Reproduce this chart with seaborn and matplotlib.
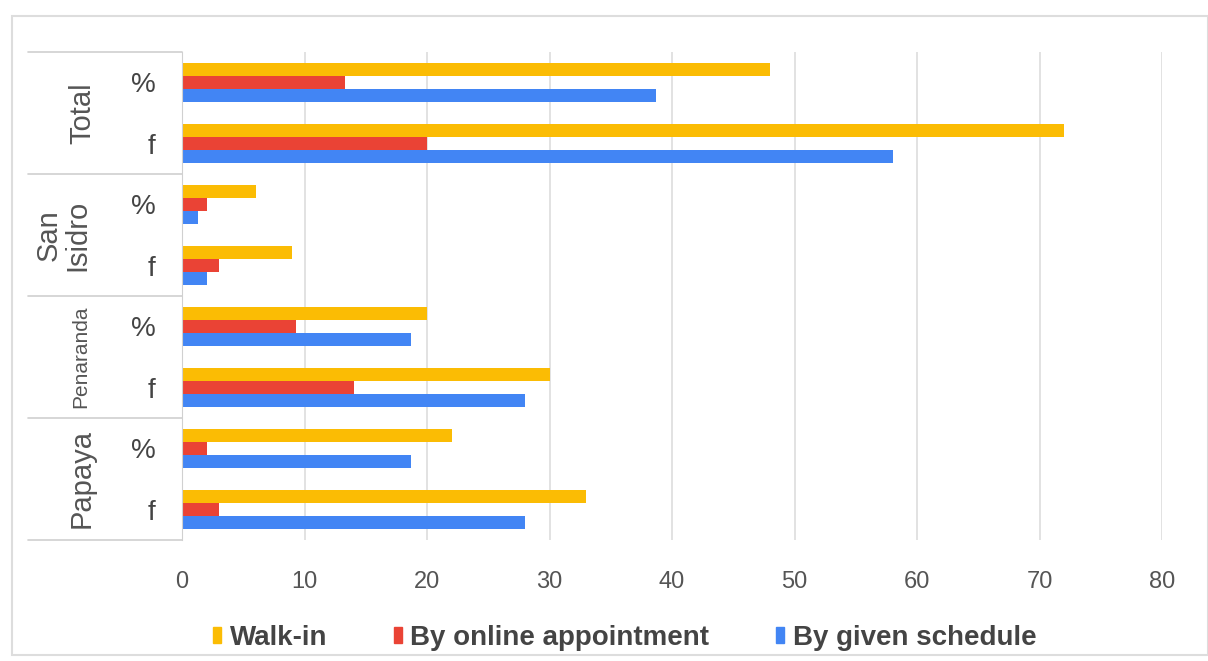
import matplotlib
matplotlib.use("Agg")
import matplotlib.pyplot as plt
import matplotlib.transforms as mtransforms
from matplotlib.lines import Line2D
from matplotlib.patches import Rectangle
import pandas as pd
import seaborn as sns

# Données
rows = ["Total %", "Total f", "San Isidro %", "San Isidro f",
        "Penaranda %", "Penaranda f", "Papaya %", "Papaya f"]
row_labels = ["%", "f", "%", "f", "%", "f", "%", "f"]
groups = ["Total", "San\nIsidro", "Penaranda", "Papaya"]
methods = ["Walk-in", "By online appointment", "By given schedule"]
walk_in = [48, 72, 6, 9, 20, 30, 22, 33]
online = [13.3, 20, 2, 3, 9.3, 14, 2, 3]
schedule = [38.7, 58, 1.3, 2, 18.7, 28, 18.7, 28]
x_ticks = [0, 10, 20, 30, 40, 50, 60, 70, 80]

colors = ["#FBBC04", "#EA4335", "#4285F4"]

df = pd.DataFrame({
    "row": rows * 3,
    "method": [methods[0]] * 8 + [methods[1]] * 8 + [methods[2]] * 8,
    "value": walk_in + online + schedule,
})

sns.set_style("white")
plt.rcParams["font.family"] = ["Liberation Sans", "DejaVu Sans"]

fig = plt.figure(figsize=(12.08, 6.61), dpi=100)
ax = fig.add_axes([182 / 1208, 1 - 540 / 661, (1162 - 182) / 1208, 488 / 661])

sns.barplot(data=df, x="value", y="row", hue="method", order=rows,
            hue_order=methods, palette=colors, width=0.63, orient="h",
            saturation=1, linewidth=0, ax=ax)

ax.set_xlim(0, 80)
ax.set_ylim(7.5, -0.5)
ax.set_xticks(x_ticks)
ax.set_xticklabels([str(t) for t in x_ticks], fontsize=17, color="#555555")
ax.set_yticks(range(len(rows)))
ax.set_yticklabels(row_labels, fontsize=20, color="#444444")
ax.tick_params(axis="x", length=0, pad=22)
ax.tick_params(axis="y", length=0, pad=19)
ax.set_xlabel("")
ax.set_ylabel("")
ax.xaxis.grid(True, color="#dddddd", linewidth=1.2)
ax.set_axisbelow(True)
for s in ["top", "right", "bottom"]:
    ax.spines[s].set_visible(False)
ax.spines["left"].set_color("#d0d0d0")

# Étiquettes de groupes et séparateurs
trans = mtransforms.blended_transform_factory(fig.transFigure, ax.transData)
group_x = [82, 63, 81, 82]
group_size = [21, 21, 15, 21]
for i, g in enumerate(groups):
    ax.text(group_x[i] / 1208, 2 * i + 0.5, g, rotation=90, ha="center",
            va="center", fontsize=group_size[i], color="#555555",
            linespacing=1.05, transform=trans)
for yb in [-0.5, 1.5, 3.5, 5.5, 7.5]:
    ax.add_line(Line2D([28 / 1208, 182 / 1208], [yb, yb], color="#d0d0d0",
                       linewidth=1.2, transform=trans, clip_on=False))

# Légende
handles = [Rectangle((0, 0), 1, 1, color=c) for c in colors]
fig.legend(handles, methods, loc="center", bbox_to_anchor=(0.517, 0.035),
           ncol=3, frameon=False, handlelength=0.3, handleheight=0.55,
           handletextpad=0.3, columnspacing=2.4,
           prop={"size": 20, "weight": "bold"}, labelcolor="#444444")
if ax.get_legend() is not None:
    ax.get_legend().remove()

# Cadre extérieur
fig.patches.append(Rectangle((12 / 1208, 6 / 661), 1 - 12 / 1208, 1 - 22 / 661,
                             transform=fig.transFigure, fill=False,
                             edgecolor="#dddddd", linewidth=1.5))

fig.savefig("out.png", dpi=100)
